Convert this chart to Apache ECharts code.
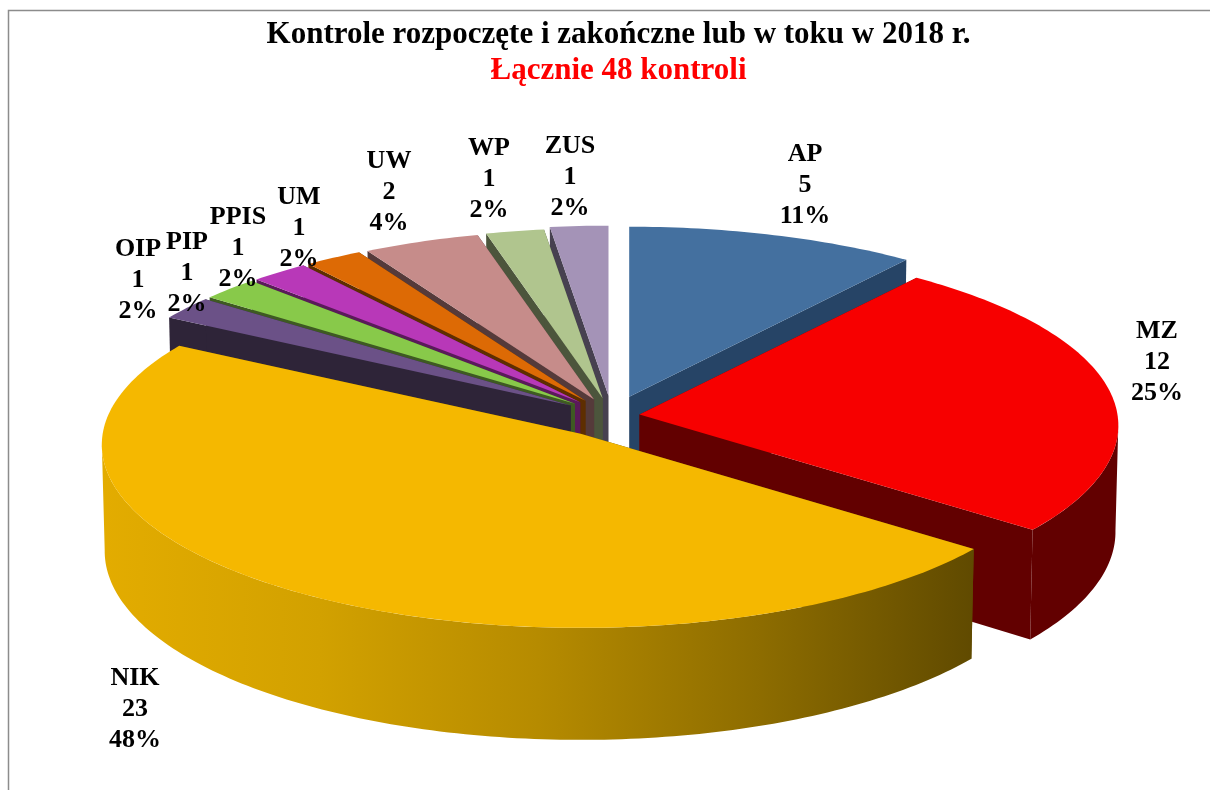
<!DOCTYPE html>
<html>
<head>
<meta charset="utf-8">
<style>
  html, body { margin: 0; padding: 0; background: #fff; }
  #chart { width: 1210px; height: 790px; }
</style>
<script src="https://cdn.jsdelivr.net/npm/echarts@6/dist/echarts.min.js"></script>
</head>
<body>
<div id="chart"></div>
<script>
const categories = ["AP", "MZ", "NIK", "OIP", "PIP", "PPIS", "UM", "UW", "WP", "ZUS"];
const counts = [5, 12, 23, 1, 1, 1, 1, 2, 1, 1];
const percents = [11, 25, 48, 2, 2, 2, 2, 4, 2, 2];

const topColors = ["#44709f", "#f70000", "#f5b800", "#6b5187", "#88c94a", "#b838b8", "#dd6a05", "#c68c8a", "#b0c58e", "#a493b7"];
const wallColors = ["#264466", "#620000", "#604a00", "#2e2438", "#3e5a22", "#5a1a5a", "#5e2e00", "#553a3a", "#4c553c", "#474150"];
const explode = [0.112, 0.058, 0.118, 0.104, 0.103, 0.101, 0.1, 0.098, 0.1, 0.112];
// back to front, later slices cover earlier ones
const drawOrder = [9, 8, 7, 6, 5, 4, 3, 0, 1, 2];
const labelCenters = [[805, 185], [1157, 362], [135, 709], [138, 280], [187, 273], [238, 248], [299, 228], [389, 192], [489, 179], [570, 177]];

const total = counts.reduce((a, b) => a + b, 0);
const CX = 612, CY = 416, RX = 478, RY = 182;

// flat pie seen from above, with a bit of perspective towards the viewer
function rim(deg, ax, ay, drop) {
  const a = (deg * Math.PI) / 180;
  const u = Math.sin(a), v = -Math.cos(a);
  const x = RX * u * (1 + 0.06 * v);
  const y = RY * v * (1 + 0.066 * v);
  if (!drop) return [ax + x, ay + y];
  return [ax + x * 0.994, ay + y + 106 + 6 * v];
}

function arc(from, to, ax, ay, drop) {
  const pts = [];
  const n = Math.max(2, Math.ceil(to - from));
  for (let i = 0; i <= n; i++) pts.push(rim(from + ((to - from) * i) / n, ax, ay, drop));
  return pts;
}

const starts = [];
counts.reduce((sum, c, i) => {
  starts[i] = (sum / total) * 360;
  return sum + c;
}, 0);

const nikWall = new echarts.graphic.LinearGradient(0, 0, 1, 0, [
  { offset: 0, color: "#e3ac00" },
  { offset: 0.25, color: "#d2a100" },
  { offset: 0.5, color: "#b68b00" },
  { offset: 0.75, color: "#8e6d00" },
  { offset: 1, color: "#604a00" },
]);

function renderSlice(params, api) {
  const i = api.value(0);
  const layer = drawOrder.indexOf(i) * 10;
  const from = starts[i];
  const to = from + (api.value(1) / total) * 360;
  const mid = ((from + to) / 2) * (Math.PI / 180);
  const ax = CX + RX * Math.sin(mid) * explode[i];
  const ay = CY - RY * Math.cos(mid) * explode[i];

  const face = (deg) => ({
    type: "polygon",
    z2: layer,
    shape: { points: [[ax, ay], rim(deg, ax, ay), rim(deg, ax, ay, true), [ax, ay + 106]] },
    style: { fill: wallColors[i] },
  });

  const children = [face(from), face(to)];

  // outer wall only where it faces the viewer
  const wallFrom = Math.max(from, 93);
  const wallTo = Math.min(to, 267);
  if (wallTo > wallFrom) {
    children.push({
      type: "polygon",
      z2: layer + 1,
      shape: { points: arc(wallFrom, wallTo, ax, ay).concat(arc(wallFrom, wallTo, ax, ay, true).reverse()) },
      style: { fill: categories[i] === "NIK" ? nikWall : wallColors[i] },
    });
  }

  children.push(
    {
      type: "polygon",
      z2: layer + 2,
      shape: { points: [[ax, ay]].concat(arc(from, to, ax, ay)) },
      style: { fill: topColors[i] },
    },
    {
      type: "text",
      z2: 1000,
      x: labelCenters[i][0],
      y: labelCenters[i][1],
      style: {
        text: categories[i] + "\n" + counts[i] + "\n" + percents[i] + "%",
        font: 'bold 26px "Liberation Serif"',
        lineHeight: 31,
        fill: "#000",
        align: "center",
        verticalAlign: "middle",
      },
    }
  );

  return { type: "group", children };
}

const chart = echarts.init(document.getElementById("chart"));
chart.setOption({
  animation: false,
  backgroundColor: "#fff",
  title: {
    text: "Kontrole rozpoczęte i zakończne lub w toku w 2018 r.",
    subtext: "Łącznie 48 kontroli",
    left: 613.5,
    top: 14,
    textAlign: "center",
    itemGap: 5,
    textStyle: { fontFamily: "Liberation Serif", fontWeight: "bold", fontSize: 31, color: "#000" },
    subtextStyle: { fontFamily: "Liberation Serif", fontWeight: "bold", fontSize: 31, color: "#ff0000" },
  },
  graphic: [
    {
      type: "polyline",
      silent: true,
      shape: { points: [[8.5, 790], [8.5, 10.5], [1210, 10.5]] },
      style: { stroke: "#8c8c8c", lineWidth: 1.5, fill: null },
    },
  ],
  series: [
    {
      type: "custom",
      coordinateSystem: "none",
      renderItem: renderSlice,
      data: drawOrder.map((i) => [i, counts[i]]),
    },
  ],
});
</script>
</body>
</html>
